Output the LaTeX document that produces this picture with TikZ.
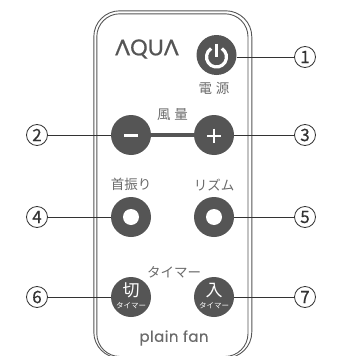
\documentclass[tikz,border=0pt]{standalone}
\usepackage{fontspec}
\setmainfont{Noto Sans CJK JP}
\newfontfamily\latofont{Lato}
\newfontfamily\popfont{Poppins}
\definecolor{btn}{HTML}{555555}
\definecolor{lab}{HTML}{6A6A6A}
\definecolor{ln}{HTML}{333333}
\begin{document}
\begin{tikzpicture}[x=1pt,y=-1pt,
  btnnode/.style={circle,fill=btn,minimum size=40pt,inner sep=0pt,text=white},
  hole/.style={circle,fill=white,minimum size=16pt,inner sep=0pt},
  numnode/.style={circle,draw=ln,line width=0.8pt,fill=white,minimum size=21pt,inner sep=0pt,font=\fontsize{17}{17}\selectfont\addfontfeature{FakeBold=0.5},text=ln},
  conn/.style={draw=ln,line width=1pt},
  shell/.style={draw=btn,line width=0.9pt,rounded corners=#1},
  lbl/.style={text=lab,inner sep=0pt,font=\fontsize{13.5}{14}\selectfont}]
\useasboundingbox (0,0) rectangle (337,356);
\begin{scope}
\clip (0,0) rectangle (337,356);
\draw[shell=26pt] (93.8,10.8) rectangle (251.8,358);
\draw[shell=23pt] (96.8,13.8) rectangle (248,356.5);
\end{scope}
\node[btnnode] (pw) at (216.5,55) {};
\node[btnnode] (mi) at (131,135) {};
\node[btnnode] (pl) at (214,135) {};
\node[btnnode] (neck) at (131,217) {};
\node[btnnode] (rh) at (214,217) {};
\node[btnnode] (cut) at (131,297) {};
\node[btnnode] (in) at (214,297) {};
\node[hole,at=(neck)] (neckh) {};
\node[hole,at=(rh)] (rhh) {};
\node[numnode] (n1) at (305,57) {1};
\node[numnode] (n2) at (37,135) {2};
\node[numnode] (n3) at (305,135) {3};
\node[numnode] (n4) at (37,217) {4};
\node[numnode] (n5) at (305,217) {5};
\node[numnode] (n6) at (37,297) {6};
\node[numnode] (n7) at (305,297) {7};
\draw[conn] (pw.east |- n1) -- (n1);
\draw[conn] (n2) -- (mi);
\draw[conn] (pl) -- (n3);
\draw[conn] (n4) -- (neck);
\draw[conn] (rh) -- (n5);
\draw[conn] (n6) -- (cut);
\draw[conn] (in) -- (n7);
\draw[btn,line width=4pt] (mi) -- (pl);
% power icon
\draw[white,line width=3.2pt] (216.5,57) ++(-58:10) arc[start angle=-58,end angle=238,radius=10];
\draw[white,line width=2.4pt] (216.5,43.5) -- (216.5,57);
% minus and plus
\draw[white,line width=2.6pt] (124,135.3) -- (138,135.3);
\draw[white,line width=2pt] (207,135.5) -- (221,135.5) (214,128.5) -- (214,142.5);
\node[inner sep=0pt,text=btn,font=\latofont\fontsize{22}{22}\selectfont\addfontfeature{FakeBold=0.6}] (logo) at (147,49) {ΛQUΛ};
\node[lbl] (dengen) at (214,88) {電\hspace{4pt}源};
\node[lbl] (fu) at (172.5,115) {風\hspace{4pt}量};
\node[lbl] (kubi) at (131,184) {首振り};
\node[lbl] (rizumu) at (214,185) {リズム};
\node[lbl] (timer) at (174,272) {タイマー};
\node[text=white,inner sep=0pt,font=\fontsize{17}{17}\selectfont] (k1) at (131,290.5) {切};
\node[text=white,inner sep=0pt,font=\fontsize{7.5}{7.5}\selectfont] (k2) at (131,305.5) {タイマー};
\node[text=white,inner sep=0pt,font=\fontsize{17}{17}\selectfont] (i1) at (214,290.5) {入};
\node[text=white,inner sep=0pt,font=\fontsize{7.5}{7.5}\selectfont] (i2) at (214,305.5) {タイマー};
\node[inner sep=0pt,text=lab,font=\popfont\fontsize{15}{15}\selectfont\addfontfeature{FakeBold=0.5,LetterSpace=3}] (pf) at (174,338) {plain fan};
\end{tikzpicture}
\end{document}
